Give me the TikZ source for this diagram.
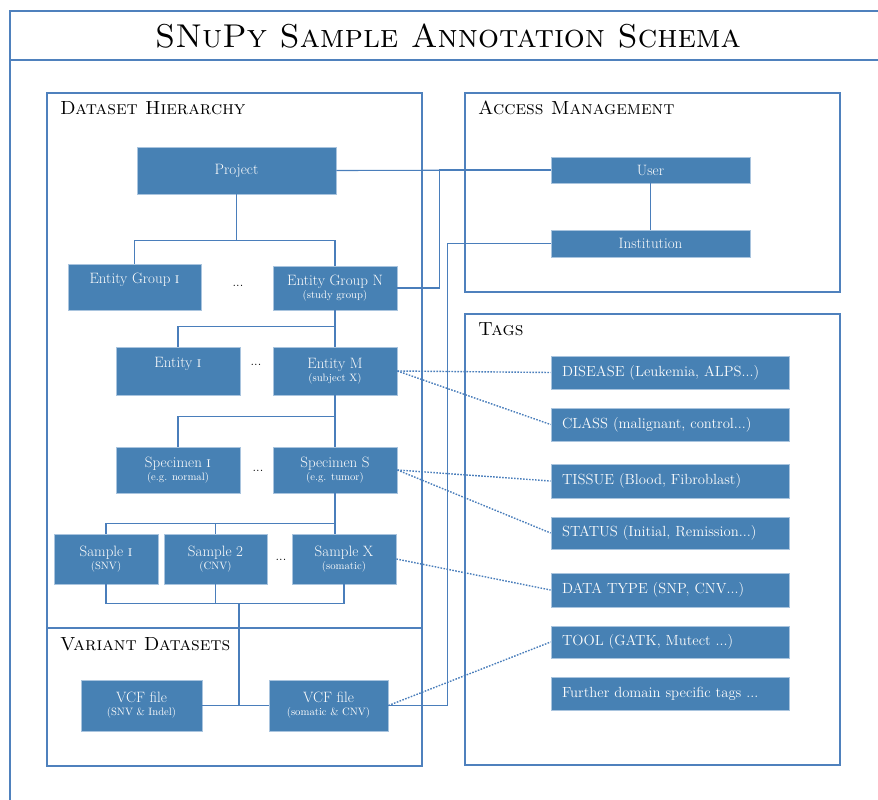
\documentclass[tikz,border=0pt]{standalone}
\usepackage{fontspec}
\usetikzlibrary{calc}

\definecolor{boxfill}{HTML}{4781B4}
\definecolor{boxedge}{HTML}{A9C4DE}
\definecolor{framecol}{HTML}{4F81BD}
\definecolor{conncol}{HTML}{4A7EBB}
\definecolor{boxtext}{HTML}{FCFCFC}

% box from corner (x1,y1) to corner (x2,y2), y grows downwards
\newcommand{\bx}[7][]{%
  \node[box,#1,minimum width={#4-#2},minimum height={#5-#3}] (#6)
    at ({(#2+#4)/2},{(#3+#5)/2}) {#7};}
\newcommand{\sub}[1]{\\[-3pt]{\fontsize{10.7}{11}\selectfont #1}}
\newcommand{\one}{\textsc{i}}
\newcommand{\two}{\oldstylenums{2}}

\begin{document}
\begin{tikzpicture}[x=1pt,y=-1pt,
  box/.style={draw=boxedge,line width=0.8pt,fill=boxfill,text=boxtext,
    align=center,inner sep=0pt,font=\fontsize{15}{16}\selectfont},
  tagbox/.style={box,align=left,text width={#1},inner xsep=11pt,font=\fontsize{14.7}{16}\selectfont},
  frame/.style={draw=framecol,line width=2.6pt},
  conn/.style={draw=conncol,line width=1.1pt},
  dot/.style={draw=conncol,line width=1.4pt,dash pattern=on 1.6pt off 1.4pt},
  heading/.style={anchor=base west,inner sep=0pt,font=\fontsize{19}{20}\selectfont\scshape},
  ellip/.style={inner sep=0pt,font=\fontsize{13}{14}\selectfont}]
\useasboundingbox (0,0) rectangle (878,800);

% outer frame with title bar
\draw[frame] (880,11) -- (10,11) -- (10,802);
\draw[frame] (10,60) -- (880,60);
\node[inner sep=0pt,font=\fontsize{33}{35}\selectfont\scshape] (title) at (448,36) {SNuPy Sample Annotation Schema};

% section frames
\draw[frame] (47,93) rectangle (422,766);
\draw[frame] (47,628) -- (422,628);
\draw[frame] (465,93) rectangle (840,292);
\draw[frame] (465,314) rectangle (840,765);

\node[heading] (hdata) at (60,114) {Dataset Hierarchy};
\node[heading] (hvar) at (60,650) {Variant Datasets};
\node[heading] (hacc) at (478,114) {Access Management};
\node[heading] (htag) at (478,335) {Tags};

% dataset hierarchy
\bx{137}{147}{336}{194}{proj}{Project}
\bx{68}{264}{201}{310}{eg1}{Entity Group \one\\[-3pt]\phantom{(x)}}
\bx{273}{266}{397}{310}{egn}{Entity Group N\sub{(study group)}}
\bx{116}{347}{240}{395}{ent1}{Entity \one\\[-3pt]\phantom{(x)}}
\bx{273}{347}{397}{395}{entm}{Entity M\sub{(subject X)}}
\bx{116}{447}{240}{493}{spec1}{Specimen \one\sub{(e.g. normal)}}
\bx{273}{447}{397}{493}{specs}{Specimen S\sub{(e.g. tumor)}}
\bx{54}{534}{158}{584}{samp1}{Sample \one\sub{(SNV)}}
\bx{164}{534}{267}{584}{samp2}{Sample \two\sub{(CNV)}}
\bx{292}{534}{396}{584}{sampx}{Sample X\sub{(somatic)}}
\bx{81}{680}{202}{731}{vcf1}{VCF file\sub{(SNV \& Indel)}}
\bx{269}{680}{388}{731}{vcf2}{VCF file\sub{(somatic \& CNV)}}

\node[ellip] (d1) at (238,286) {...};
\node[ellip] (d2) at (256,365) {...};
\node[ellip] (d3) at (258,471) {...};
\node[ellip] (d4) at (281,560) {...};

% access management
\bx{551}{157}{750}{183}{user}{User}
\bx{551}{230}{750}{257}{inst}{Institution}

% tags
\bx[tagbox=216pt]{551}{356}{789}{389}{tdis}{DISEASE (Leukemia, ALPS...)}
\bx[tagbox=216pt]{551}{408}{789}{441}{tcls}{CLASS (malignant, control...)}
\bx[tagbox=216pt]{551}{464}{789}{498}{ttis}{TISSUE (Blood, Fibroblast)}
\bx[tagbox=216pt]{551}{517}{789}{549}{tsta}{STATUS (Initial, Remission...)}
\bx[tagbox=216pt]{551}{573}{789}{607}{tdat}{DATA TYPE (SNP, CNV...)}
\bx[tagbox=216pt]{551}{626}{789}{658}{ttool}{TOOL (GATK, Mutect ...)}
\bx[tagbox=216pt]{551}{677}{789}{710}{tfur}{Further domain specific tags ...}

% hierarchy connectors
\draw[conn] (proj.south) -- ++(0,46) coordinate (b1);
\draw[conn] (eg1.north) -- (eg1.north |- b1) -- (egn.north |- b1) -- (egn.north);
\draw[conn] (egn.south) -- (entm.north);
\coordinate (b2) at ($(egn.south)+(0,16)$);
\draw[conn] (ent1.north) -- (ent1.north |- b2) -- (b2);
\draw[conn] (entm.south) -- (specs.north);
\coordinate (b3) at ($(entm.south)+(0,21)$);
\draw[conn] (spec1.north) -- (spec1.north |- b3) -- (b3);
\draw[conn] (specs.south) -- ++(0,30) coordinate (b4);
\draw[conn] (samp1.north) -- (samp1.north |- b4) -- (b4) -- (b4 |- sampx.north);
\draw[conn] (samp2.north) -- (samp2.north |- b4);
\coordinate (b5) at ($(samp2.south)+(0,19)$);
\draw[conn] (samp1.south) -- (samp1.south |- b5) -- (sampx.south |- b5) -- (sampx.south);
\draw[conn] (samp2.south) -- (samp2.south |- b5);
\coordinate (b6) at (239,603);
\draw[conn] (b6) -- (b6 |- vcf1.east);
\draw[conn] (vcf1.east) -- (vcf2.west);

% links to access management
\draw[conn] (proj.east) -- (user.west);
\draw[conn] (egn.east) -- ++(42,0) |- (user.west);
\draw[conn] (user.south) -- (inst.north);
\draw[conn] (inst.west) -- ++(-103,0) |- (vcf2.east);

% tag links
\draw[dot] (entm.east) -- (tdis.west);
\draw[dot] (entm.east) -- (tcls.west);
\draw[dot] (specs.east) -- (ttis.west);
\draw[dot] (specs.east) -- (tsta.west);
\draw[dot] (sampx.east) -- (tdat.west);
\draw[dot] (vcf2.east) -- (ttool.west);
\end{tikzpicture}
\end{document}
